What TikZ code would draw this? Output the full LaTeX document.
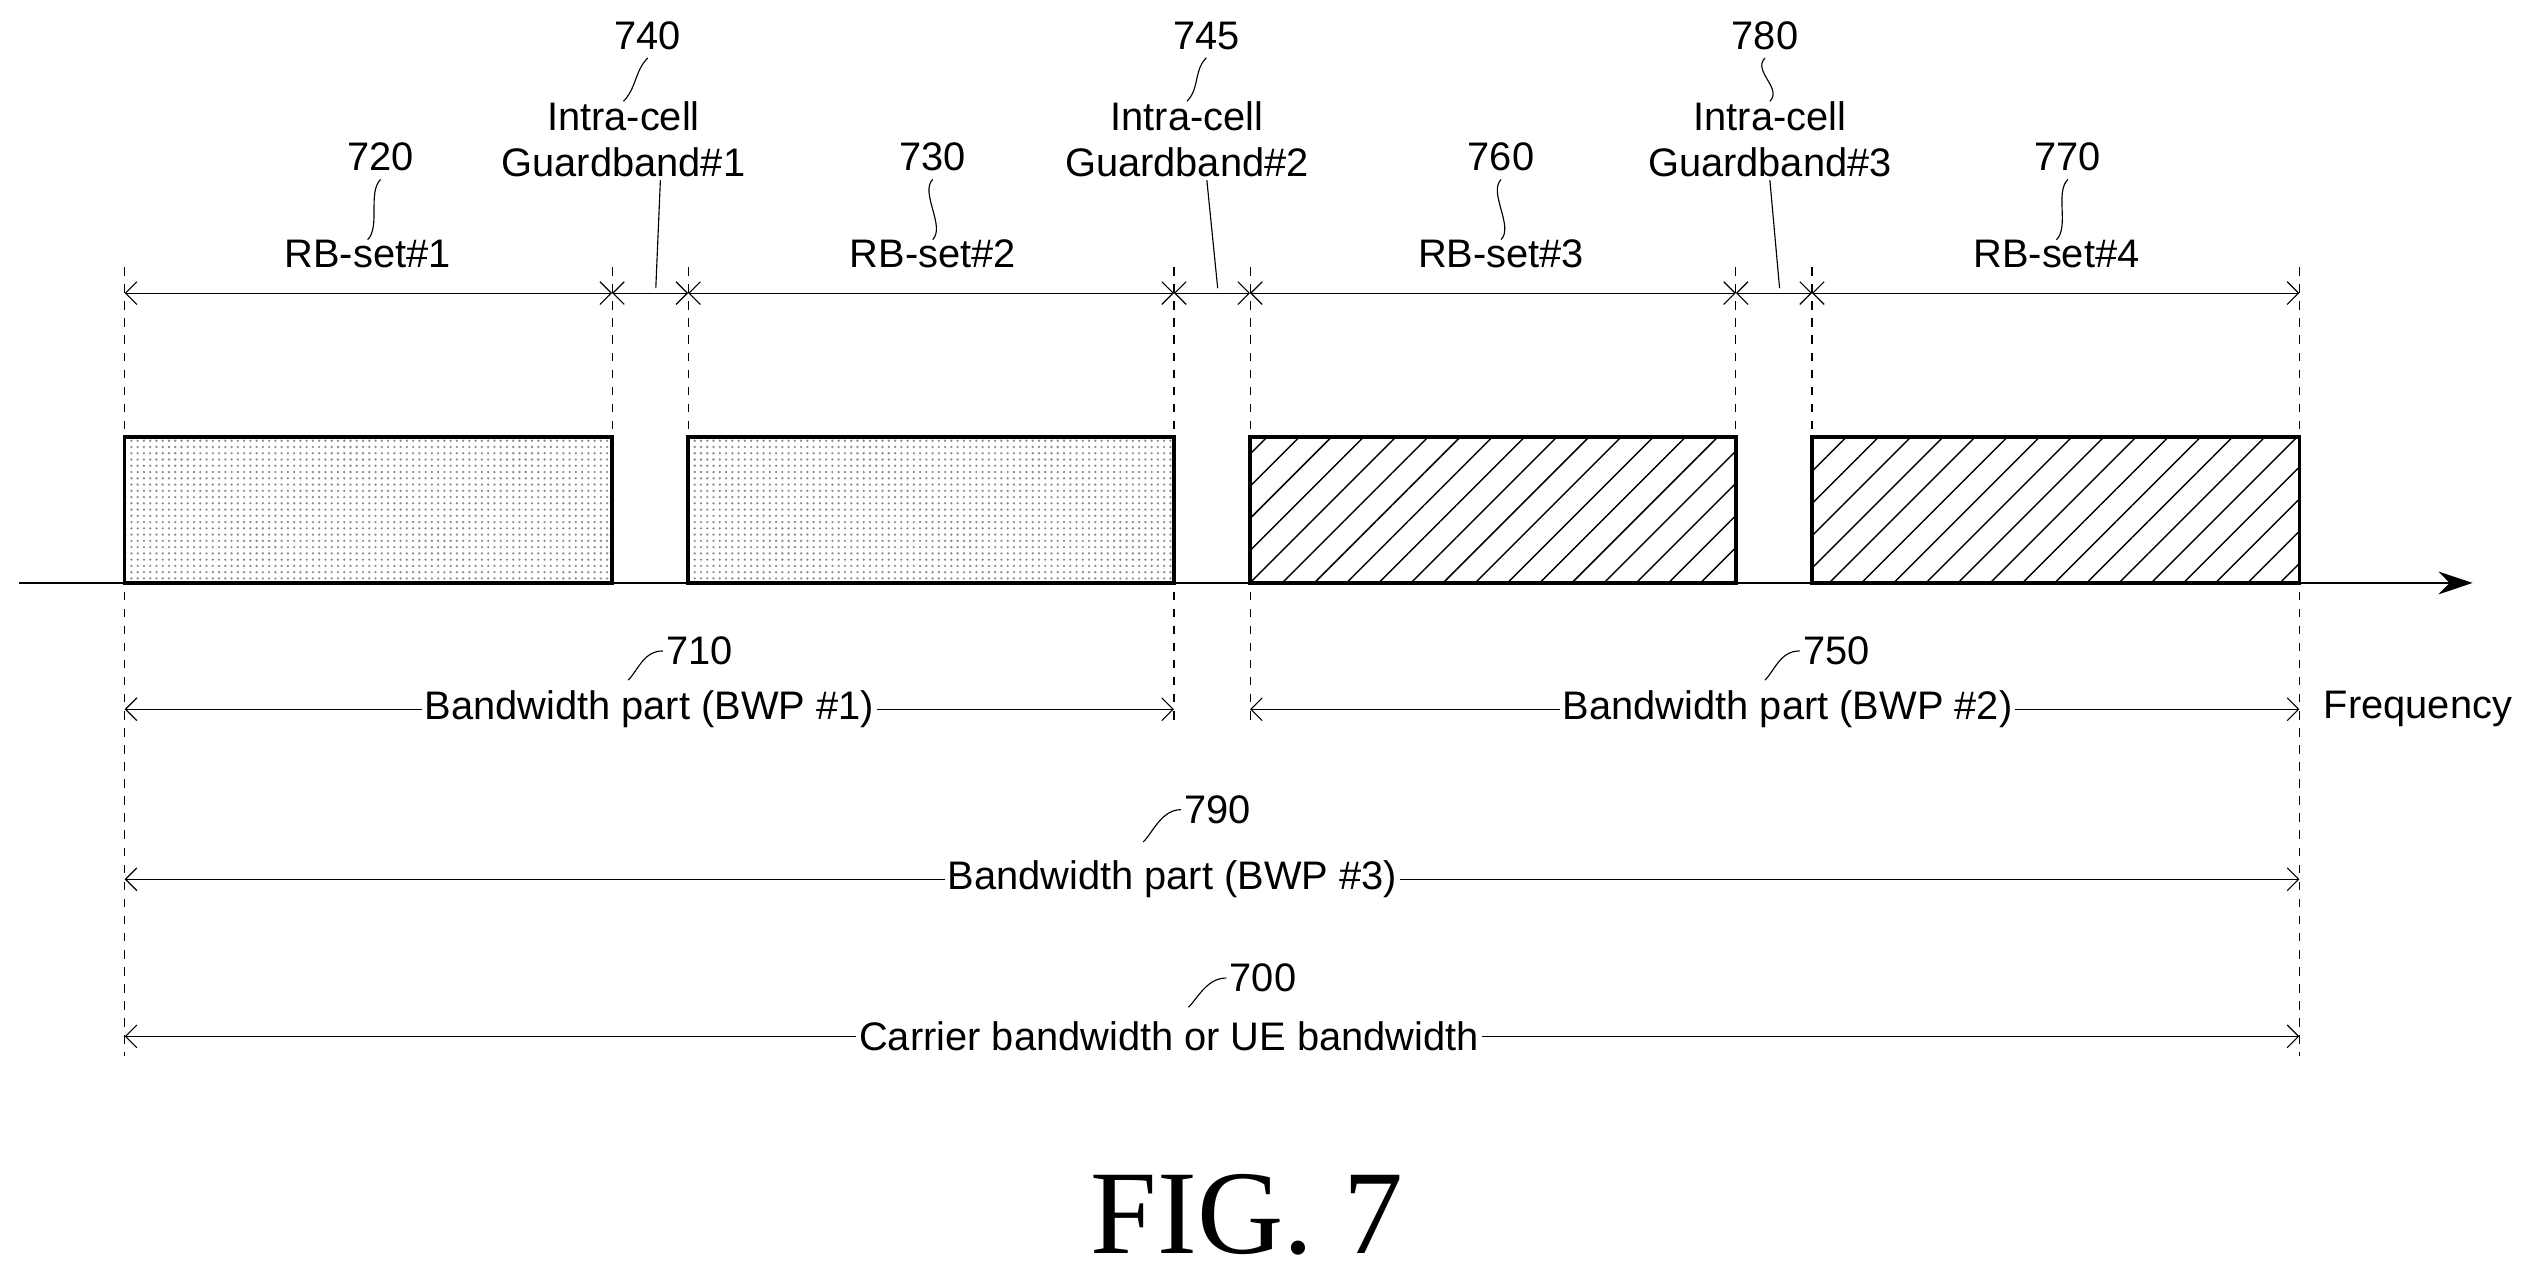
\documentclass[tikz,border=0pt]{standalone}
\usepackage{fontspec}
\setmainfont{Liberation Sans}
\newfontfamily\figfont{Liberation Serif}
\usetikzlibrary{patterns.meta,arrows.meta}
\begin{document}
\begin{tikzpicture}
     [x=0.02cm, y=-0.02cm,
     dotband/.style={draw=black, very thick, pattern={Dots[distance=2.2pt,radius=0.45pt]}, pattern color=gray!90},
     hatchband/.style={draw=black, very thick, pattern={Lines[angle=45,distance=8pt,line width=0.5pt]}},
     guide/.style={draw=black, dashed, thin},
     span/.style={draw=black, thin, {Straight Barb[length=4pt]}-{Straight Barb[length=4pt]}},
     lbl/.style={font=\fontsize{14}{16}\selectfont, align=center, inner sep=1pt},
     gaplbl/.style={font=\fontsize{14}{16}\selectfont, align=center, inner sep=1pt, fill=white},
     leader/.style={draw=black, thin},
     ]
 \useasboundingbox (0,0) rectangle (1568,794);
 % guide lines
 \draw[guide] (77,165) -- (77,652);
 \draw[guide] (1420,165) -- (1420,652);
 \foreach \x in {378,425,1072,1119} \draw[guide] (\x,165) -- (\x,270);
 \foreach \x in {725,772} \draw[guide] (\x,165) -- (\x,445);
 % bands
 \draw[dotband] (77,360) rectangle (378,270);
 \draw[dotband] (425,360) rectangle (725,270);
 \draw[hatchband] (772,360) rectangle (1072,270);
 \draw[hatchband] (1119,360) rectangle (1420,270);
 \coordinate (ax0) at (12,360);
 \coordinate (ax1) at (1527,360);
 \draw[thick, -{Stealth[length=12pt,width=8pt]}] (ax0) -- (ax1);
 % RB-sets and guardbands
 \foreach \a/\b in {77/378,378/425,425/725,725/772,772/1072,1072/1119,1119/1420}
   \draw[span] (\a,181) -- (\b,181);
 \node[lbl] (rb1) at (227,157) {RB-set\#1};
 \node[lbl] (rb2) at (576,157) {RB-set\#2};
 \node[lbl] (rb3) at (927,157) {RB-set\#3};
 \node[lbl] (rb4) at (1270,157) {RB-set\#4};
 \node[lbl] (n720) at (235,97) {720};
 \node[lbl] (n730) at (576,97) {730};
 \node[lbl] (n760) at (927,97) {760};
 \node[lbl] (n770) at (1277,97) {770};
 \foreach \n/\r in {n720/rb1,n730/rb2,n760/rb3,n770/rb4}
   \draw[leader] (\n.south) ++(0,3) .. controls +(-8,8) and +(8,-8) .. ([yshift=-1pt]\r.north);
 \node[lbl] (g1) at (385,86) {Intra-cell\\Guardband\#1};
 \node[lbl] (g2) at (733,86) {Intra-cell\\Guardband\#2};
 \node[lbl] (g3) at (1093,86) {Intra-cell\\Guardband\#3};
 \node[lbl] (n740) at (400,22) {740};
 \node[lbl] (n745) at (745,22) {745};
 \node[lbl] (n780) at (1090,22) {780};
 \foreach \n/\r in {n740/g1,n745/g2,n780/g3}
   \draw[leader] (\n.south) ++(0,3) .. controls +(-8,8) and +(8,-8) .. ([yshift=-1pt]\r.north);
 \coordinate (g1e) at (405,178);
 \coordinate (g2e) at (752,178);
 \coordinate (g3e) at (1099,178);
 \draw[leader] ([xshift=13pt]g1.south) -- (g1e);
 \draw[leader] ([xshift=7pt]g2.south) -- (g2e);
 \draw[leader] ([xshift=0pt]g3.south) -- (g3e);
 % bandwidth parts
 \draw[span] (77,438) -- (725,438);
 \draw[span] (772,438) -- (1420,438);
 \draw[span] (77,543) -- (1420,543);
 \draw[span] (77,640) -- (1420,640);
 \node[gaplbl] (bwp1) at (401,438) {Bandwidth part (BWP \#1)};
 \node[gaplbl] (bwp2) at (1104,438) {Bandwidth part (BWP \#2)};
 \node[gaplbl] (bwp3) at (724,543) {Bandwidth part (BWP \#3)};
 \node[gaplbl] (cbw) at (722,640) {Carrier bandwidth or UE bandwidth};
 \node[lbl] (n710) at (432,402) {710};
 \node[lbl] (n750) at (1134,402) {750};
 \node[lbl] (n790) at (752,500) {790};
 \node[lbl] (n700) at (780,604) {700};
 \draw[leader] (n710.west) .. controls +(-12,0) and +(6,-6) .. (388,420);
 \draw[leader] (n750.west) .. controls +(-12,0) and +(6,-6) .. (1090,420);
 \draw[leader] (n790.west) .. controls +(-12,0) and +(6,-6) .. (706,520);
 \draw[leader] (n700.west) .. controls +(-12,0) and +(6,-6) .. (734,622);
 \node[lbl, anchor=west] (freq) at (1433,438) {Frequency};
 \node[font=\figfont\fontsize{42}{46}\selectfont, inner sep=0pt] (fig) at (770,750) {FIG. 7};
\end{tikzpicture}
\end{document}
